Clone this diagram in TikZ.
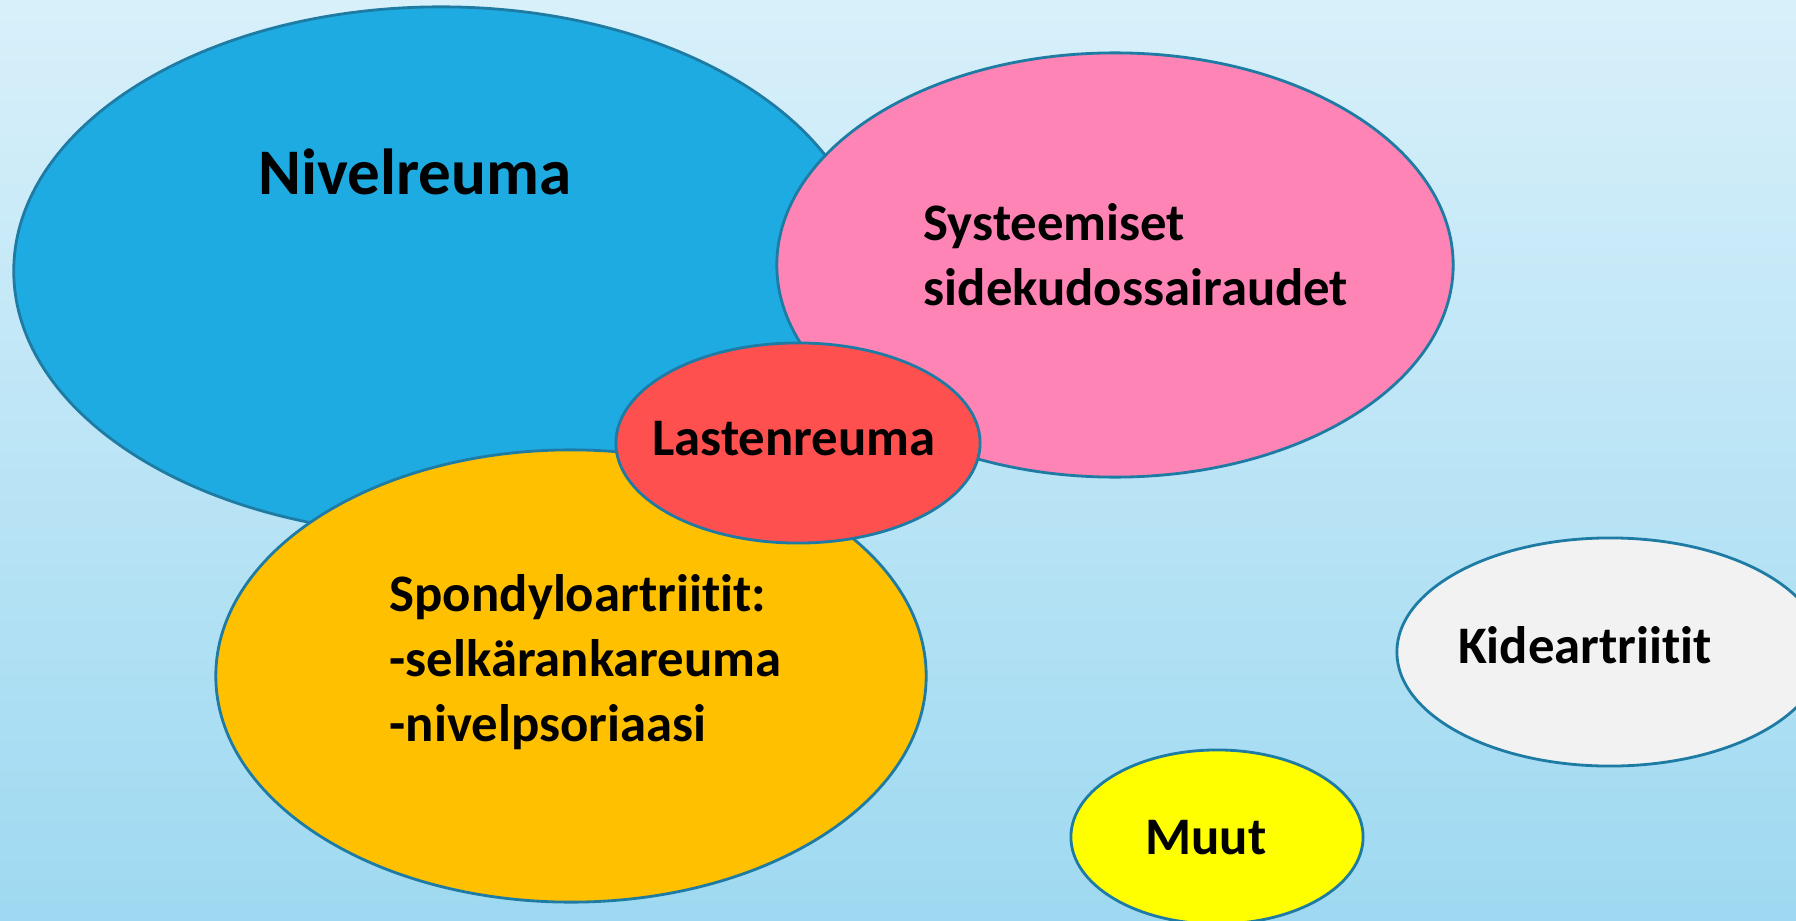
\documentclass[tikz,border=0pt]{standalone}
\usepackage{fontspec}
\setmainfont{Carlito}[Ligatures={NoCommon}]
\usepackage{xcolor}
\usepackage{tikz}
\usetikzlibrary{shapes.geometric, positioning}
\definecolor{bgtop}{HTML}{D8F0FA}
\definecolor{bgbot}{HTML}{9ED9F1}
\definecolor{rim}{HTML}{1E7BA3}
\definecolor{nivel}{HTML}{1EABE2}
\definecolor{syst}{HTML}{FD84B5}
\definecolor{lasten}{HTML}{FF5050}
\definecolor{spondy}{HTML}{FFC000}
\definecolor{kide}{HTML}{F2F2F2}
\definecolor{muut}{HTML}{FFFF00}
\tikzstyle{blob}  = [ellipse, draw=rim, line width=0.8pt, inner sep=0pt]
\tikzstyle{tag}   = [font=\fontsize{15}{18.5}\selectfont\bfseries, text=black,
                     inner sep=0pt]

\begin{document}
\begin{tikzpicture}[x=0.01cm, y=-0.01cm]

  \clip (0,0) rectangle (1796,921);
  \shade[top color=bgtop, bottom color=bgbot] (0,0) rectangle (1796,921);

  %% Ellipses
  \node[blob, fill=nivel, minimum width=8.54cm, minimum height=5.28cm] (niv)
        at (441,271) {};
  \node[blob, fill=syst, minimum width=6.76cm, minimum height=4.24cm] (sys)
        at (1115,265) {};
  \node[blob, fill=spondy, minimum width=7.10cm, minimum height=4.52cm] (spo)
        at (571,676) {};
  \node[blob, fill=lasten, minimum width=3.64cm, minimum height=2.00cm] (las)
        at (798,443) {};
  \node[blob, fill=kide, minimum width=4.26cm, minimum height=2.28cm] (kid)
        at (1610,652) {};
  \node[blob, fill=muut, minimum width=2.92cm, minimum height=1.74cm] (muu)
        at (1217,837) {};

  %% Labels
  \node[tag, font=\fontsize{18.5}{22}\selectfont\bfseries] (nivtxt)
        at (415,172) {Nivelreuma};
  \node[tag, anchor=west, align=left] (systxt)
        at (923,255) {Systeemiset\\sidekudossairaudet};
  \node[tag] (lastxt) at (794,439) {Lastenreuma};
  \node[tag, anchor=west, align=left] (spotxt)
        at (389,662) {Spondyloartriitit:\\-selkärankareuma\\-nivelpsoriaasi};
  \node[tag] (kidtxt) at (1585,645) {Kideartriitit};
  \node[tag] (muutxt) at (1206,838) {Muut};

\end{tikzpicture}
\end{document}
